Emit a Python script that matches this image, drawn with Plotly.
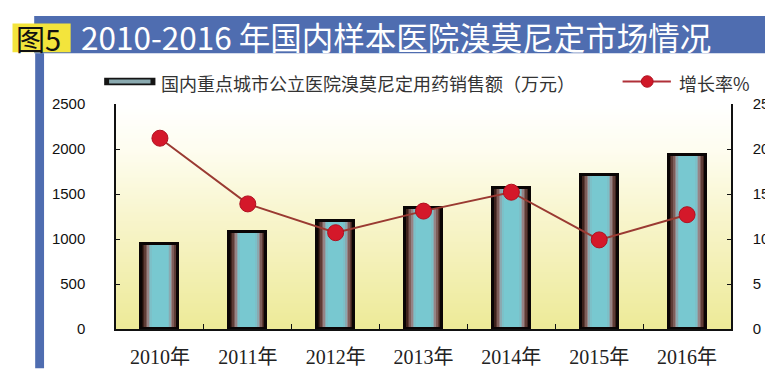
import base64, struct, zlib
import plotly.graph_objects as go

# ---------------- data ----------------
years = ["2010年", "2011年", "2012年", "2013年", "2014年", "2015年", "2016年"]
sales = [948, 1075, 1200, 1350, 1565, 1713, 1936]          # 万元
growth = [21.2, 13.9, 10.7, 13.1, 15.2, 9.9, 12.7]         # %
sales_name = "国内重点城市公立医院溴莫尼定用药销售额（万元）"
growth_name = "增长率%"
title_text = "2010-2016 年国内样本医院溴莫尼定市场情况"
fig_label = "图5"

W, H = 773, 372
L, R, T, B = 108, 41, 96, 41
PW, PH = W - L - R, H - T - B


def px(x):
    return (x - L) / PW


def py(y):
    return (H - B - y) / PH


# ---------- vertical gradient png for plot background ----------
def gradient_png(stops, n=256):
    rows = []
    for i in range(n):
        t = i / (n - 1)
        for j in range(len(stops) - 1):
            t0, c0 = stops[j]
            t1, c1 = stops[j + 1]
            if t0 <= t <= t1:
                f = (t - t0) / (t1 - t0) if t1 > t0 else 0
                c = [round(c0[k] + (c1[k] - c0[k]) * f) for k in range(3)]
                break
        rows.append(b"\x00" + bytes(c) * 2)
    raw = b"".join(rows)

    def chunk(tag, data):
        return (struct.pack(">I", len(data)) + tag + data
                + struct.pack(">I", zlib.crc32(tag + data) & 0xFFFFFFFF))

    png = (b"\x89PNG\r\n\x1a\n"
           + chunk(b"IHDR", struct.pack(">IIBBBBB", 2, n, 8, 2, 0, 0, 0))
           + chunk(b"IDAT", zlib.compress(raw, 9))
           + chunk(b"IEND", b""))
    return "data:image/png;base64," + base64.b64encode(png).decode()


bg_src = gradient_png([
    (0.0, (255, 255, 255)),
    (0.2, (254, 253, 240)),
    (0.5, (248, 245, 205)),
    (1.0, (237, 234, 152)),
])

fig = go.Figure()

# ---------- cylinder-like bars (layered) ----------
layers = [
    (0.42, "#1e0e0a"),
    (0.39, "#3e221c"),
    (0.355, "#5e3c36"),
    (0.32, "#7e5e5a"),
    (0.285, "#968486"),
    (0.25, "#8aa9b0"),
    (0.215, "#7cc0c8"),
    (0.175, "#78c8d0"),
]
for w, col in layers:
    fig.add_trace(go.Bar(
        x=years, y=sales, width=w, marker=dict(color=col, line=dict(width=0)),
        showlegend=False, hoverinfo="skip", yaxis="y"))
fig.add_trace(go.Bar(
    x=years, y=sales, width=0.42, name=sales_name,
    marker=dict(color="rgba(0,0,0,0)", line=dict(color="#0a0505", width=3)),
    showlegend=False, yaxis="y"))

# ---------- growth line ----------
fig.add_trace(go.Scatter(
    x=years, y=growth, name=growth_name, mode="lines+markers", yaxis="y2",
    line=dict(color="#9a3a32", width=2),
    marker=dict(size=16, color="#d4182a", line=dict(color="#b01020", width=1)),
    showlegend=False))

shapes = []
annotations = []

# title banner
shapes.append(dict(type="rect", xref="paper", yref="paper",
                   x0=px(25), x1=px(772), y0=py(43), y1=py(4),
                   fillcolor="#4f6db0", line=dict(width=0), layer="above"))
shapes.append(dict(type="rect", xref="paper", yref="paper",
                   x0=px(26), x1=px(35), y0=py(372), y1=py(43),
                   fillcolor="#4f6db0", line=dict(width=0), layer="above"))
shapes.append(dict(type="rect", xref="paper", yref="paper",
                   x0=px(3), x1=px(62), y0=py(42), y1=py(12),
                   fillcolor="#f3e43c", line=dict(width=0), layer="above"))
shapes.append(dict(type="line", xref="paper", yref="paper",
                   x0=px(771), x1=px(771), y0=py(372), y1=py(45),
                   line=dict(color="#333", width=1, dash="dot"), layer="above"))
annotations.append(dict(text=fig_label, xref="paper", yref="paper",
                        x=px(4), y=py(27), xanchor="left", yanchor="middle",
                        showarrow=False,
                        font=dict(family="Noto Sans CJK SC", size=29, color="#111")))
annotations.append(dict(text=title_text, xref="paper", yref="paper",
                        x=px(70), y=py(25), xanchor="left", yanchor="middle",
                        showarrow=False,
                        font=dict(family="Noto Sans CJK SC", size=31.5, color="#ffffff")))

# custom legend
shapes.append(dict(type="rect", xref="paper", yref="paper",
                   x0=px(96), x1=px(148), y0=py(76.5), y1=py(68.5),
                   fillcolor="#151515", line=dict(width=0)))
shapes.append(dict(type="rect", xref="paper", yref="paper",
                   x0=px(101), x1=px(143), y0=py(74.5), y1=py(70.5),
                   fillcolor="#8aaab0", line=dict(width=0)))
annotations.append(dict(text=sales_name, xref="paper", yref="paper",
                        x=px(152), y=py(74), xanchor="left", yanchor="middle",
                        showarrow=False,
                        font=dict(family="Noto Sans CJK SC", size=18, color="#333")))
shapes.append(dict(type="line", xref="paper", yref="paper",
                   x0=px(622), x1=px(671), y0=py(72.5), y1=py(72.5),
                   line=dict(color="#b03038", width=2)))
shapes.append(dict(type="circle", xref="paper", yref="paper",
                   x0=px(641), x1=px(653), y0=py(78.5), y1=py(66.5),
                   fillcolor="#d01828", line=dict(color="#b01020", width=1)))
annotations.append(dict(text=growth_name, xref="paper", yref="paper",
                        x=px(677), y=py(74), xanchor="left", yanchor="middle",
                        showarrow=False,
                        font=dict(family="Noto Sans CJK SC", size=18, color="#333")))

fig.update_layout(
    width=W, height=H,
    margin=dict(l=L, r=R, t=T, b=B, pad=0),
    paper_bgcolor="white", plot_bgcolor="rgba(0,0,0,0)",
    barmode="overlay", bargap=0,
    showlegend=False,
    images=[dict(source=bg_src, xref="paper", yref="paper", x=0, y=1,
                 sizex=1, sizey=1, sizing="stretch", layer="below",
                 xanchor="left", yanchor="top")],
    shapes=shapes, annotations=annotations,
    xaxis=dict(type="category", showline=True, linecolor="#111", linewidth=1.5,
               ticks="inside", tickson="boundaries", ticklen=5, tickcolor="#111",
               showgrid=False, ticklabelstandoff=9,
               tickfont=dict(family="Liberation Serif, Noto Sans CJK SC", size=20, color="#222")),
    yaxis=dict(range=[0, 2500], dtick=500, showline=True, linecolor="#111", linewidth=1.5,
               ticks="inside", ticklen=4, tickcolor="#111", showgrid=False, zeroline=False,
               ticklabelstandoff=26,
               tickfont=dict(family="Liberation Sans, Arial", size=15, color="#111")),
    yaxis2=dict(range=[0, 25], dtick=5, overlaying="y", side="right", showline=True,
                linecolor="#111", linewidth=1.5, ticks="inside", ticklen=4, tickcolor="#111",
                showgrid=False, zeroline=False, ticklabelstandoff=17,
                tickfont=dict(family="Liberation Sans, Arial", size=15, color="#111")),
)

fig.write_html("out.html")
